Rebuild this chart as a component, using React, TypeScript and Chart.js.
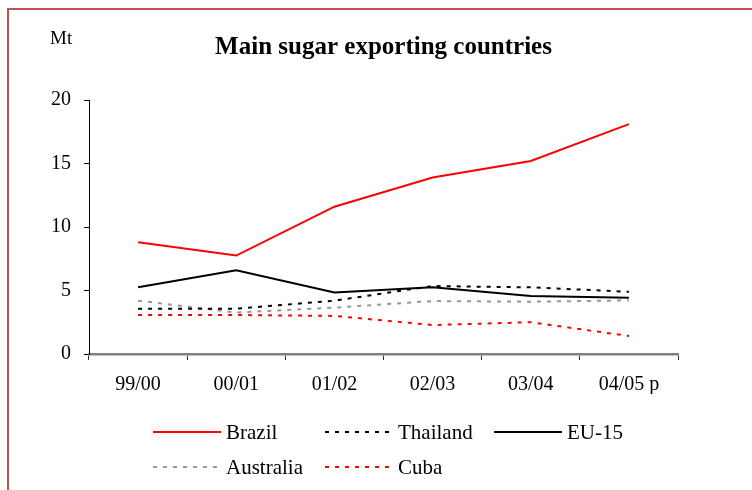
import { useEffect, useRef } from "react";
import { Chart, registerables } from "chart.js";

Chart.register(...registerables);

const categories = ["99/00", "00/01", "01/02", "02/03", "03/04", "04/05 p"];
const brazil = [8.8, 7.75, 11.6, 13.9, 15.2, 18.1];
const thailand = [3.57, 3.57, 4.2, 5.35, 5.25, 4.9];
const eu15 = [5.25, 6.6, 4.85, 5.25, 4.57, 4.43];
const australia = [4.2, 3.27, 3.65, 4.17, 4.12, 4.22];
const cuba = [3.07, 3.07, 3.0, 2.28, 2.5, 1.42];
const yTicks = [0, 5, 10, 15, 20];

const chartTitle = "Main sugar exporting countries";
const unitLabel = "Mt";
const FONT = '"Liberation Serif", "Times New Roman", serif';

const overlayPlugin = {
  id: "overlay",
  afterDraw(chart: any) {
    const ctx = chart.ctx as CanvasRenderingContext2D;
    const area = chart.chartArea;
    ctx.save();
    // title
    ctx.fillStyle = "#000";
    ctx.font = `bold 25px ${FONT}`;
    ctx.textAlign = "center";
    ctx.textBaseline = "middle";
    ctx.fillText(chartTitle, (area.left + area.right) / 2, 48);
    // unit label
    ctx.font = `19px ${FONT}`;
    ctx.textAlign = "left";
    ctx.fillText(unitLabel, 50, 39);
    // legend
    const cols = [64, 236, 405];
    const rows = [78, 113];
    const lineLen = 68;
    chart.data.datasets.forEach((ds: any, i: number) => {
      const col = i < 3 ? i : i - 3;
      const row = i < 3 ? 0 : 1;
      const x = area.left + cols[col];
      const y = area.bottom + rows[row];
      ctx.save();
      ctx.strokeStyle = ds.borderColor;
      ctx.lineWidth = ds.borderWidth;
      ctx.setLineDash(ds.borderDash || []);
      ctx.beginPath();
      ctx.moveTo(x, y);
      ctx.lineTo(x + lineLen, y);
      ctx.stroke();
      ctx.restore();
      ctx.font = `21px ${FONT}`;
      ctx.fillStyle = "#000";
      ctx.textAlign = "left";
      ctx.textBaseline = "middle";
      ctx.fillText(ds.label, x + lineLen + 5, y + 1);
    });
    ctx.restore();
  },
};

function mkDs(label: string, data: number[], color: string, dash: number[], width: number) {
  return {
    label,
    data,
    borderColor: color,
    backgroundColor: color,
    borderDash: dash,
    borderWidth: width,
    pointRadius: 0,
    pointHoverRadius: 0,
    tension: 0,
    fill: false,
  };
}

export default function App() {
  const ref = useRef<HTMLCanvasElement | null>(null);
  useEffect(() => {
    if (!ref.current) return;
    const chart = new Chart(ref.current, {
      type: "line",
      data: {
        labels: categories,
        datasets: [
          mkDs("Brazil", brazil, "#ff0000", [], 2),
          mkDs("Thailand", thailand, "#000000", [4, 6], 2),
          mkDs("EU-15", eu15, "#000000", [], 2),
          mkDs("Australia", australia, "#969696", [4, 6], 2),
          mkDs("Cuba", cuba, "#ff0000", [4, 6], 2),
        ],
      },
      options: {
        responsive: false,
        animation: false,
        devicePixelRatio: 1,
        layout: { padding: { left: 49, right: 74, top: 100, bottom: 96 } },
        plugins: {
          legend: { display: false },
          title: { display: false },
          tooltip: { enabled: false },
        },
        scales: {
          x: {
            type: "category",
            offset: true,
            grid: {
              offset: true,
              drawOnChartArea: false,
              drawTicks: true,
              tickLength: 6,
              color: "#303030",
              lineWidth: 1,
            },
            border: { color: "#808080", width: 2.5 },
            ticks: {
              font: { family: FONT, size: 20 },
              color: "#000",
              padding: 13,
              maxRotation: 0,
              autoSkip: false,
            },
            afterFit: (s: any) => {
              s.height = 40;
            },
          },
          y: {
            min: 0,
            max: 20,
            afterBuildTicks: (s: any) => {
              s.ticks = yTicks.map((v) => ({ value: v }));
            },
            ticks: {
              font: { family: FONT, size: 20 },
              color: "#000",
              padding: 13,
            },
            grid: {
              drawOnChartArea: false,
              drawTicks: true,
              tickLength: 5,
              color: "#000",
            },
            border: { color: "#000", width: 1 },
            afterFit: (s: any) => {
              s.width = 40;
            },
          },
        },
      },
      plugins: [overlayPlugin],
    });
    return () => chart.destroy();
  }, []);

  return (
    <div
      style={{
        position: "fixed",
        left: 0,
        top: 0,
        width: 752,
        height: 490,
        overflow: "hidden",
        background: "#fff",
      }}
    >
      <div
        style={{
          position: "absolute",
          left: 7,
          top: 8,
          width: 900,
          height: 700,
          borderLeft: "2px solid #c0504d",
          borderTop: "2px solid #c0504d",
        }}
      />
      <canvas
        ref={ref}
        width={752}
        height={490}
        style={{ position: "absolute", left: 0, top: 0 }}
      />
    </div>
  );
}
